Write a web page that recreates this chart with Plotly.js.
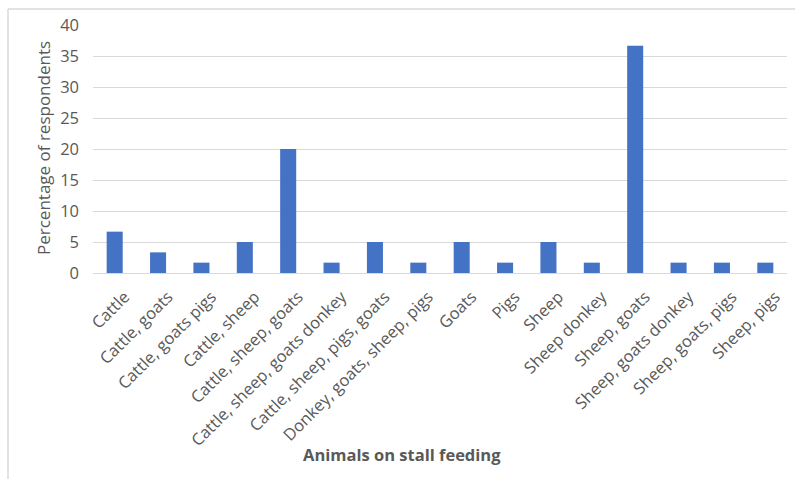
<!DOCTYPE html>
<html>
<head>
<meta charset="utf-8">
<script src="https://cdn.plot.ly/plotly-3.0.1.min.js"></script>
<style>
  html, body { margin: 0; padding: 0; background: #ffffff; }
  #chart { width: 795px; height: 479px; }
</style>
</head>
<body>
<div id="chart"></div>
<script>
// Animals kept under stall feeding, share of respondents (%)
const categories = [
  "Cattle", "Cattle, goats", "Cattle, goats pigs", "Cattle, sheep",
  "Cattle, sheep, goats", "Cattle, sheep, goats donkey", "Cattle, sheep, pigs, goats",
  "Donkey, goats, sheep, pigs", "Goats", "Pigs", "Sheep", "Sheep donkey",
  "Sheep, goats", "Sheep, goats donkey", "Sheep, goats, pigs", "Sheep, pigs"
];
const percentages = [
  6.67, 3.33, 1.67, 5, 20, 1.67, 5, 1.67, 5, 1.67, 5, 1.67, 36.67, 1.67, 1.67, 1.67
];
const yTicks = [0, 5, 10, 15, 20, 25, 30, 35, 40];

const W = 795, H = 479;
const M = { l: 93, r: 8, t: 25, b: 206 };
const pw = W - M.l - M.r, ph = H - M.t - M.b;
const px = x => (x - M.l) / pw;
const py = y => 1 - (y - M.t) / ph;

const font = "'Open Sans', 'DejaVu Sans', sans-serif";
const grey = "#595959";

const trace = {
  type: "bar",
  x: categories,
  y: percentages,
  marker: { color: "#4472C4" },
  hoverinfo: "x+y"
};

const layout = {
  width: W, height: H,
  margin: M,
  paper_bgcolor: "#ffffff",
  plot_bgcolor: "#ffffff",
  showlegend: false,
  bargap: 0.63,
  font: { family: font, color: grey, size: 15 },
  xaxis: {
    type: "category",
    tickangle: -45,
    showgrid: false,
    showline: false,
    zeroline: false,
    ticks: "",
    ticklabelstandoff: 10,
    ticklabelshift: 10,
    tickfont: { family: font, size: 16.5, color: grey },
    automargin: false
  },
  yaxis: {
    range: [0, 40],
    tickvals: yTicks,
    ticktext: yTicks.map(String),
    showgrid: true,
    gridcolor: "#d9d9d9",
    gridwidth: 1,
    zeroline: true,
    zerolinecolor: "#d9d9d9",
    zerolinewidth: 1,
    showline: false,
    ticks: "",
    ticklabelstandoff: 13,
    tickfont: { family: font, size: 16.5, color: grey },
    automargin: false
  },
  annotations: [
    {
      text: "Percentage of respondents",
      xref: "paper", yref: "paper",
      x: px(43), y: py(148),
      xanchor: "center", yanchor: "middle",
      textangle: -90, showarrow: false,
      font: { family: font, size: 17, color: grey }
    },
    {
      text: "<b>Animals on stall feeding</b>",
      xref: "paper", yref: "paper",
      x: px(402), y: py(454),
      xanchor: "center", yanchor: "middle",
      showarrow: false,
      font: { family: font, size: 16.5, color: grey }
    }
  ],
  shapes: [
    { type: "line", xref: "paper", yref: "paper",
      x0: px(8), x1: px(8), y0: py(9), y1: py(H),
      line: { color: "#d9d9d9", width: 1.5 } },
    { type: "line", xref: "paper", yref: "paper",
      x0: px(8), x1: px(W), y0: py(9), y1: py(9),
      line: { color: "#d9d9d9", width: 1.5 } }
  ]
};

Plotly.newPlot("chart", [trace], layout, { displayModeBar: false, staticPlot: true });
</script>
</body>
</html>
